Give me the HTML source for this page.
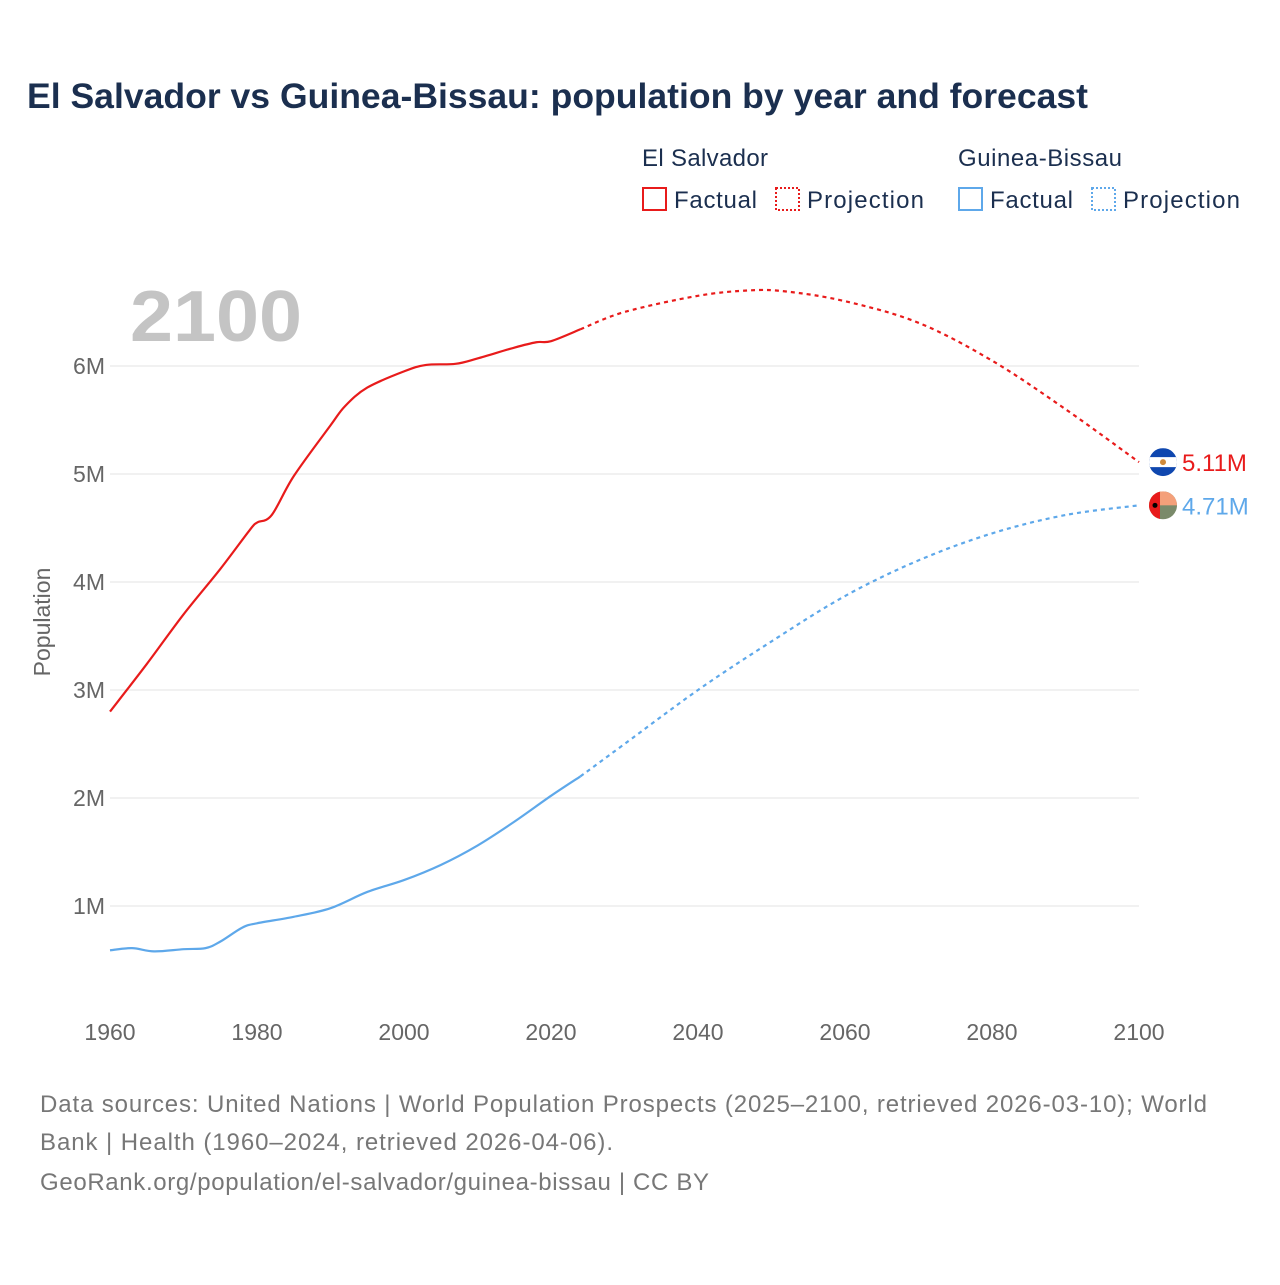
<!DOCTYPE html>
<html><head><meta charset="utf-8"><style>
body{margin:0;background:#fff;font-family:"Liberation Sans",sans-serif;}
svg text{font-family:"Liberation Sans",sans-serif;}
</style></head><body>
<svg id="chart" width="1280" height="1280" xmlns="http://www.w3.org/2000/svg">
<text x="27" y="108" font-size="35" font-weight="bold" fill="#1b2f4f" textLength="1061" lengthAdjust="spacingAndGlyphs">El Salvador vs Guinea-Bissau: population by year and forecast</text>
<g font-size="24" fill="#1b2f4f">
<text x="642" y="166" textLength="126">El Salvador</text>
<text x="958" y="166" textLength="164">Guinea-Bissau</text>
<g><rect x="643" y="188" width="23" height="22" fill="none" stroke="#e81b1b" stroke-width="2"/><text x="674" y="208" textLength="83">Factual</text></g>
<g><rect x="776" y="188" width="23" height="22" fill="none" stroke="#e81b1b" stroke-width="2" stroke-dasharray="2,2"/><text x="807" y="208" textLength="117">Projection</text></g>
<g><rect x="959" y="188" width="23" height="22" fill="none" stroke="#5ea8ea" stroke-width="2"/><text x="990" y="208" textLength="83">Factual</text></g>
<g><rect x="1092" y="188" width="23" height="22" fill="none" stroke="#5ea8ea" stroke-width="2" stroke-dasharray="2,2"/><text x="1123" y="208" textLength="117">Projection</text></g>
</g>
<text x="130" y="341" font-size="72" font-weight="bold" fill="#c4c4c4" textLength="172" lengthAdjust="spacingAndGlyphs">2100</text>
<text transform="translate(50,622) rotate(-90)" text-anchor="middle" font-size="23" fill="#666">Population</text>
<g id="grid"></g><g id="series"></g><g id="ends"></g>
<g font-size="24" fill="#777">
<text x="40" y="1112" textLength="1167">Data sources: United Nations | World Population Prospects (2025–2100, retrieved 2026-03-10); World</text>
<text x="40" y="1150" textLength="573">Bank | Health (1960–2024, retrieved 2026-04-06).</text>
<text x="40" y="1190" textLength="669">GeoRank.org/population/el-salvador/guinea-bissau | CC BY</text>
</g>
</svg>
<script>
const yTicks=[1,2,3,4,5,6];
const xTicks=[1960,1980,2000,2020,2040,2060,2080,2100];
const svYears=[1960,1965,1970,1975,1979,1980,1982,1985,1990,1992,1995,2000,2003,2007,2010,2015,2018,2020,2024];
const svValues=[2.80,3.24,3.70,4.12,4.48,4.55,4.62,4.98,5.45,5.63,5.80,5.95,6.01,6.02,6.07,6.17,6.22,6.23,6.34];
const svProjYears=[2024,2030,2040,2047,2052,2060,2070,2080,2090,2100];
const svProjValues=[6.34,6.50,6.65,6.70,6.69,6.60,6.40,6.05,5.60,5.11];
const gbYears=[1960,1963,1966,1970,1973,1975,1978,1980,1985,1990,1995,2000,2005,2010,2015,2020,2024];
const gbValues=[0.59,0.61,0.58,0.60,0.61,0.67,0.80,0.84,0.90,0.98,1.13,1.24,1.38,1.56,1.78,2.02,2.20];
const gbProjYears=[2024,2030,2040,2050,2060,2070,2080,2090,2100];
const gbProjValues=[2.20,2.50,3.00,3.45,3.87,4.20,4.45,4.62,4.71];
const X=y=>110+(y-1960)*(1139-110)/140;
const Y=v=>1014-v*108;
const NS="http://www.w3.org/2000/svg";
function mk(t,a,p){const e=document.createElementNS(NS,t);for(const k in a)e.setAttribute(k,a[k]);p.appendChild(e);return e;}
const grid=document.getElementById('grid');
yTicks.forEach(v=>{
 const l=mk('line',{x1:110,x2:1139,y1:Y(v),y2:Y(v),stroke:'#e3e3e3'},grid);
 
 
 const t=mk('text',{x:105,y:Y(v)+8,'text-anchor':'end','font-size':23,fill:'#666'},grid);t.textContent=v+'M';
 
 
});
xTicks.forEach(v=>{
 const t=mk('text',{x:X(v),y:1040,'text-anchor':'middle','font-size':23,fill:'#666'},grid);t.textContent=v;
 
 
});
function path(xs,vs){const p=xs.map((x,i)=>[X(x),Y(vs[i])]);let d='M'+p[0][0]+','+p[0][1];
 for(let i=0;i<p.length-1;i++){const p0=p[i-1]||p[i],p1=p[i],p2=p[i+1],p3=p[i+2]||p2;
  d+=` C${p1[0]+(p2[0]-p0[0])/6},${p1[1]+(p2[1]-p0[1])/6} ${p2[0]-(p3[0]-p1[0])/6},${p2[1]-(p3[1]-p1[1])/6} ${p2[0]},${p2[1]}`;}
 return d;}
const s=document.getElementById('series');
let e;
e=mk('path',{d:path(svYears,svValues),fill:'none',stroke:'#e81b1b','stroke-width':2.2},s);


e=mk('path',{d:path(svProjYears,svProjValues),fill:'none',stroke:'#e81b1b','stroke-width':2.2,'stroke-dasharray':'4,4'},s);


e=mk('path',{d:path(gbYears,gbValues),fill:'none',stroke:'#5ea8ea','stroke-width':2.2},s);


e=mk('path',{d:path(gbProjYears,gbProjValues),fill:'none',stroke:'#5ea8ea','stroke-width':2.2,'stroke-dasharray':'4,4'},s);


const en=document.getElementById('ends');
const sv=svProjValues[svProjValues.length-1], gb=gbProjValues[gbProjValues.length-1];
const sx=X(2100)+24;
let g=mk('g',{},en);


const cp1=mk('clipPath',{id:'c1'},g);mk('circle',{cx:sx,cy:Y(sv),r:14},cp1);
const g1=mk('g',{'clip-path':'url(#c1)'},g);
mk('rect',{x:sx-14,y:Y(sv)-14,width:28,height:28,fill:'#0f47af'},g1);
mk('rect',{x:sx-14,y:Y(sv)-5,width:28,height:10,fill:'#fff'},g1);
mk('circle',{cx:sx,cy:Y(sv),r:3,fill:'#d08a3a'},g1);
let t=mk('text',{x:sx+19,y:Y(sv)+9,'font-size':24,fill:'#e81b1b'},en);t.textContent=sv.toFixed(2)+'M';


g=mk('g',{},en);


const cp=mk('clipPath',{id:'c2'},g);mk('circle',{cx:sx,cy:Y(gb),r:14},cp);
const g2=mk('g',{'clip-path':'url(#c2)'},g);
mk('rect',{x:sx-14,y:Y(gb)-14,width:28,height:28,fill:'#7a8a6a'},g2);
mk('rect',{x:sx-14,y:Y(gb)-14,width:28,height:14,fill:'#f4a07a'},g2);
mk('rect',{x:sx-14,y:Y(gb)-14,width:11,height:28,fill:'#e81b1b'},g2);
mk('circle',{cx:sx-8,cy:Y(gb),r:2.5,fill:'#000'},g2);
t=mk('text',{x:sx+19,y:Y(gb)+9,'font-size':24,fill:'#5ea8ea'},en);t.textContent=gb.toFixed(2)+'M';


</script>
</body></html>
